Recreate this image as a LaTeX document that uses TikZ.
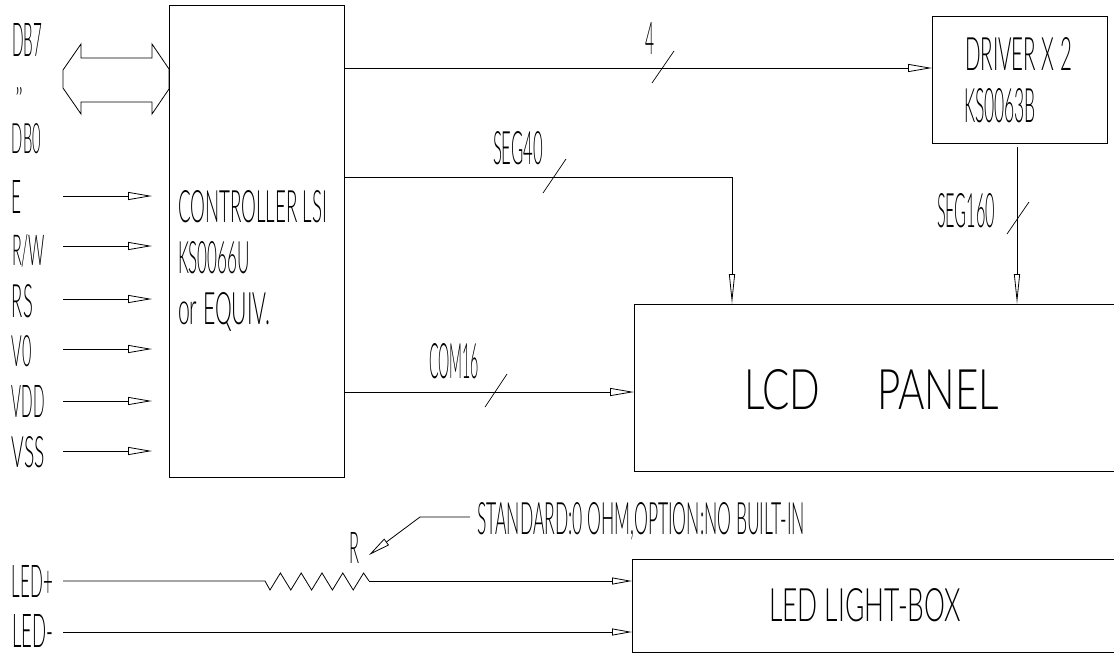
\documentclass[tikz,border=0pt]{standalone}
\usepackage{fontspec}
\IfFontExistsTF{Lato Light}{\setmainfont{Lato Light}}{\setmainfont{Liberation Sans}}
\usepackage{graphicx}
\usetikzlibrary{arrows.meta}
\newcommand\cad[3]{\resizebox{#1pt}{#2pt}{#3}}
\tikzset{
  lbl/.style={anchor=base west, inner sep=0pt, outer sep=0pt},
  blk/.style={draw, line width=0.8pt, inner sep=0pt, outer sep=0pt, anchor=north west},
  wire/.style={line width=0.8pt},
  harr/.style={wire, -{Triangle[open, length=24pt, width=8pt]}},
  larr/.style={wire, -{Triangle[open, length=20pt, width=7pt]}},
  varr/.style={wire, -{Triangle[open, length=30pt, width=6pt]}},
  tick/.style={line width=0.7pt},
}
\begin{document}
\begin{tikzpicture}[x=1pt,y=-1pt]
\useasboundingbox (0,0) rectangle (1114,654);
\fill[white] (0,0) rectangle (1114,654);

% blocks
\node[blk, minimum width=175pt, minimum height=472pt] (ctrl) at (169,5) {};
\node[blk, minimum width=175pt, minimum height=127pt] (drv) at (932,16) {};
\node[blk, minimum width=600pt, minimum height=167pt] (lcd) at (634,304) {};
\node[blk, minimum width=600pt, minimum height=93pt] (led) at (632,559) {};

% texts
\node[lbl] (tdb7) at (12,56) {\cad{30}{33}{DB7}};
\node[lbl] (tdit) at (15,110) {\cad{8}{23}{"}};
\node[lbl] (tdb0) at (12,153) {\cad{29}{30}{DB0}};
\node[lbl] (te) at (12,213) {\cad{10}{33}{E}};
\node[lbl] (trw) at (12,265) {\cad{33}{31}{R/W}};
\node[lbl] (trs) at (12,317) {\cad{21}{33}{RS}};
\node[lbl] (tv0) at (12,366) {\cad{20}{31}{V0}};
\node[lbl] (tvdd) at (12,417) {\cad{33}{32}{VDD}};
\node[lbl] (tvss) at (12,467) {\cad{33}{31}{VSS}};
\node[lbl] (tc1) at (178,222) {\cad{149}{32}{CONTROLLER LSI}};
\node[lbl] (tc2) at (178,273) {\cad{72}{32}{KS0066U}};
\node[lbl] (tc3) at (178,324) {\cad{92}{32}{or EQUIV.}};
\node[lbl] (t4) at (645,54) {\cad{9}{32}{4}};
\node[lbl] (tseg40) at (493,164) {\cad{50}{33}{SEG40}};
\node[lbl] (td1) at (965,70) {\cad{107}{33}{DRIVER X 2}};
\node[lbl] (td2) at (964,122) {\cad{72}{34}{KS0063B}};
\node[lbl] (tseg160) at (937,227) {\cad{58}{34}{SEG160}};
\node[lbl] (tcom) at (429,378) {\cad{50}{35}{COM16}};
\node[lbl] (tlcd) at (744,409) {\cad{255}{40}{LCD\hspace{1.4em}PANEL}};
\node[lbl] (tled) at (769,621) {\cad{192}{33}{LED LIGHT-BOX}};
\node[lbl] (tledp) at (12,597) {\cad{41}{32}{LED+}};
\node[lbl] (tledm) at (12,647) {\cad{41}{33}{LED-}};
\node[lbl] (tr) at (349,563) {\cad{10}{31}{R}};
\node[lbl] (tnote) at (477,534) {\cad{328}{32}{STANDARD:0 OHM,OPTION:NO BUILT-IN}};

% data bus double arrow
\draw[wire, line join=miter] (63,70) -- (81,44) -- (81,58) -- (152,58) -- (152,44) -- (169,69)
  -- (169,89) -- (152,114) -- (152,102) -- (81,102) -- (81,114) -- (63,88) -- cycle;

% control inputs
\foreach \n/\y in {e/196, rw/246, rs/299, vo/349, vdd/401, vss/451}{
  \coordinate (\n s) at (63,\y);
  \coordinate (\n e) at (152,\y);
  \draw[harr] (\n s) -- (\n e);
}

% controller -> driver
\coordinate (c4) at (ctrl.east |- 0,68);
\coordinate (d4) at (drv.west |- 0,68);
\draw[harr] (c4) -- (d4);
\draw[tick] (652,83) -- (674,51);

% SEG40
\coordinate (s40a) at (ctrl.east |- 0,177);
\coordinate (s40b) at (732,177);
\coordinate (s40c) at (lcd.north west -| s40b);
\draw[varr] (s40a) -- (s40b) -- (s40c);
\draw[tick] (543,193) -- (566,159);

% SEG160
\coordinate (s160a) at (1017,147);
\coordinate (s160b) at (lcd.north west -| s160a);
\draw[varr] (s160a) -- (s160b);
\draw[tick] (1007,234) -- (1029,202);

% COM16
\coordinate (coma) at (ctrl.east |- 0,392);
\coordinate (comb) at (lcd.west |- 0,392);
\draw[harr] (coma) -- (comb);
\draw[tick] (485,407) -- (507,374);

% LED+ with resistor
\coordinate (lps) at (63,581);
\coordinate (zs) at (265,581);
\coordinate (ze) at (369,581);
\coordinate (lpe) at (led.west |- 0,581);
\draw[wire] (lps) -- (zs) -- (270,590) -- (280.4,573) -- (290.8,590) -- (301.2,573)
  -- (311.6,590) -- (322,573) -- (332.4,590) -- (342.8,573) -- (353.2,590)
  -- (363.6,573) -- (ze);
\draw[larr] (ze) -- (lpe);

% LED-
\coordinate (lms) at (63,632);
\coordinate (lme) at (led.west |- 0,632);
\draw[larr] (lms) -- (lme);

% leader for R
\coordinate (ldA) at (470,517);
\coordinate (ldB) at (420,517);
\coordinate (ldC) at (369,555);
\draw[wire, -{Triangle[open, length=22pt, width=8pt]}] (ldA) -- (ldB) -- (ldC);
\end{tikzpicture}
\end{document}
